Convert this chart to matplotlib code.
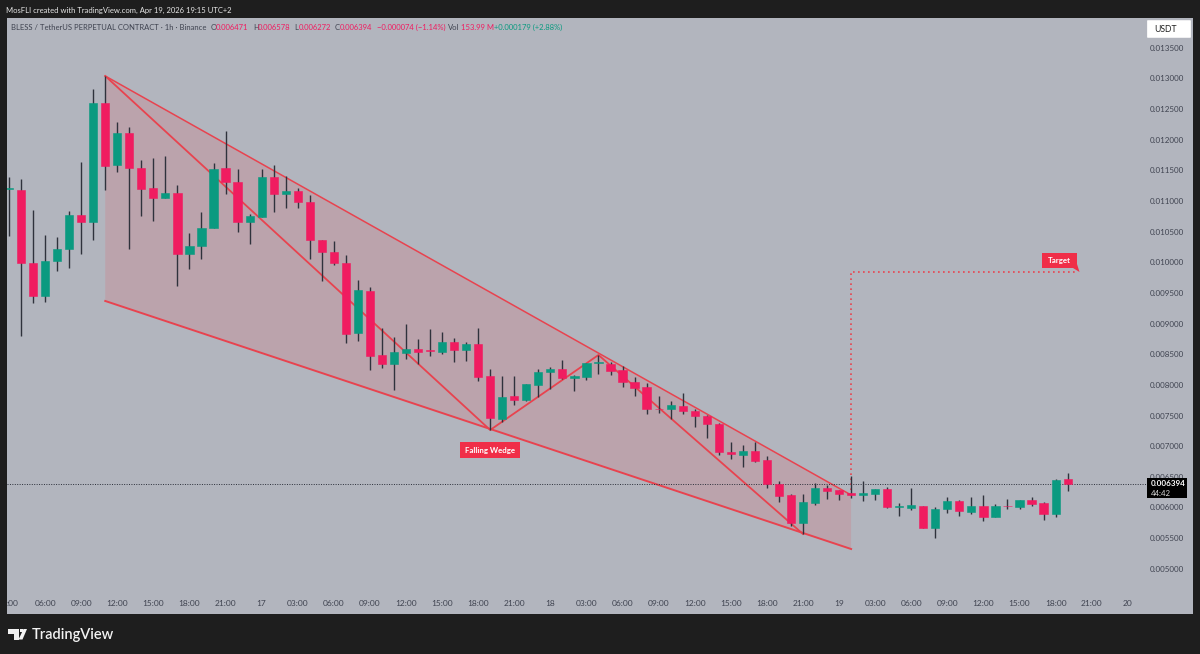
import matplotlib
matplotlib.use("Agg")
import matplotlib.pyplot as plt
from matplotlib.patches import Polygon, FancyBboxPatch, Rectangle

plt.rcParams['font.family'] = ['Lato', 'DejaVu Sans']

opens = [0.011205,0.011189,0.009998,0.009459,0.010030,0.010226,0.010781,0.010667,0.012608,0.011597,
         0.012119,0.011548,0.011221,0.011058,0.011140,0.010145,0.010275,0.010569,0.011548,0.011319,
         0.010667,0.010748,0.011401,0.011124,0.011172,0.010993,0.010373,0.010177,0.009998,0.008855,
         0.009541,0.008497,0.008350,0.008529,0.008594,0.008570,0.008545,0.008709,0.008578,0.008676,
         0.008154,0.007452,0.007828,0.007762,0.008007,0.008219,0.008268,0.008121,0.008138,0.008366,
         0.008350,0.008252,0.008056,0.007974,0.007622,0.007615,0.007664,0.007583,0.007501,0.007371,
         0.006914,0.006865,0.006930,0.006783,0.006392,0.006212,0.005755,0.006082,0.006326,0.006294,
         0.006245,0.006212,0.006228,0.006310,0.006016,0.006000,0.006033,0.005674,0.005984,0.006114,
         0.005935,0.006033,0.005853,0.006040,0.006016,0.006131,0.006082,0.005902,0.006471]
closes = [0.011215,0.009998,0.009459,0.010030,0.010226,0.010781,0.010667,0.012608,0.011580,0.012119,
          0.011548,0.011205,0.011058,0.011140,0.010145,0.010275,0.010569,0.011531,0.011319,0.010667,
          0.010765,0.011401,0.011124,0.011172,0.010993,0.010373,0.010177,0.009998,0.008839,0.009557,
          0.008480,0.008350,0.008545,0.008594,0.008545,0.008555,0.008709,0.008578,0.008676,0.008138,
          0.007469,0.007811,0.007762,0.008023,0.008219,0.008268,0.008121,0.008154,0.008366,0.008375,
          0.008235,0.008056,0.007958,0.007615,0.007608,0.007681,0.007583,0.007501,0.007371,0.006914,
          0.006881,0.006930,0.006767,0.006392,0.006196,0.005755,0.006098,0.006326,0.006277,0.006228,
          0.006212,0.006245,0.006310,0.006016,0.006025,0.006049,0.005674,0.005984,0.006114,0.005951,
          0.006033,0.005853,0.006033,0.006025,0.006131,0.006065,0.005902,0.006457,0.006394]
highs = [0.011401,0.011368,0.010862,0.010455,0.010422,0.010846,0.011646,0.012837,0.013049,0.012298,
         0.012217,0.011678,0.011711,0.011744,0.011270,0.010487,0.010830,0.011629,0.012152,0.011531,
         0.010797,0.011531,0.011597,0.011417,0.011221,0.011107,0.010373,0.010357,0.010128,0.009720,
         0.009606,0.008937,0.008790,0.009002,0.008758,0.008921,0.008872,0.008774,0.008709,0.008937,
         0.008268,0.008154,0.008154,0.008023,0.008268,0.008301,0.008415,0.008170,0.008366,0.008497,
         0.008382,0.008317,0.008138,0.008040,0.007828,0.007746,0.007876,0.007615,0.007518,0.007387,
         0.007077,0.007028,0.007077,0.006848,0.006441,0.006228,0.006228,0.006408,0.006375,0.006294,
         0.006522,0.006441,0.006310,0.006343,0.006082,0.006326,0.006033,0.006016,0.006179,0.006131,
         0.006179,0.006212,0.006065,0.006147,0.006131,0.006179,0.006098,0.006473,0.006578]
lows = [0.010438,0.008807,0.009345,0.009361,0.009867,0.009916,0.010145,0.010373,0.011189,0.011483,
        0.010226,0.010765,0.010683,0.011058,0.009622,0.009900,0.010063,0.010569,0.011124,0.010503,
        0.010308,0.010748,0.010830,0.010895,0.010895,0.010063,0.009704,0.009965,0.008692,0.008725,
        0.008252,0.008284,0.007925,0.008431,0.008350,0.008480,0.008513,0.008382,0.008399,0.008072,
        0.007273,0.007403,0.007681,0.007746,0.007811,0.007942,0.008105,0.007909,0.008089,0.008186,
        0.008170,0.007974,0.007828,0.007534,0.007550,0.007452,0.007534,0.007322,0.007142,0.006865,
        0.006800,0.006669,0.006751,0.006326,0.006098,0.005706,0.005576,0.006049,0.006147,0.006131,
        0.006163,0.006114,0.006131,0.006000,0.005869,0.005967,0.005674,0.005510,0.005918,0.005869,
        0.005902,0.005788,0.005853,0.005984,0.005984,0.006033,0.005804,0.005853,0.006272]

time_tick_pos = [0.3,3,6,9,12,15,18,21,24,27,30,33,36,39,42,45,48,51,54,57,60,63,66,69,72,75,78,81,84,87,90,93]
time_tick_lab = [':00','06:00','09:00','12:00','15:00','18:00','21:00','17','03:00','06:00','09:00','12:00','15:00',
                 '18:00','21:00','18','03:00','06:00','09:00','12:00','15:00','18:00','21:00','19','03:00',
                 '06:00','09:00','12:00','15:00','18:00','21:00','20']
price_ticks = [0.0135,0.0130,0.0125,0.0120,0.0115,0.0110,0.0105,0.0100,0.0095,0.0090,0.0085,
               0.0080,0.0075,0.0070,0.0065,0.0060,0.0055,0.0050]

wedge_x = [8, 70, 70, 8]
wedge_y = [0.013049, 0.006212, 0.005331, 0.009378]
zigzag_x = [8, 40, 49, 66]
zigzag_y = [0.013049, 0.007273, 0.008497, 0.005576]
target_x = [70, 70, 88.9]
target_y = [0.006212, 0.009851, 0.009851]
last_price = 0.006394

W, H = 1200, 654
BG, PANE = '#1e1e1e', '#b2b5be'
RED, GREEN, LINE = '#f01c60', '#0a9a80', '#e8434f'
TXT = '#3f4350'
fig = plt.figure(figsize=(W/100, H/100), dpi=100, facecolor=BG)
L, T, R, B = 7, 18, 1193, 614
ax = fig.add_axes([L/W, 1-B/H, (R-L)/W, (B-T)/H], facecolor=PANE)
ax.set_xlim((L-9)/12.03, (R-9)/12.03)
ax.set_ylim(0.006+(508-B)*1.6317e-5, 0.006+(508-T)*1.6317e-5)
ax.set_axis_off()
ax.add_patch(Rectangle((0, 0), 1, 1, transform=ax.transAxes, fc=PANE, ec='none', zorder=0))

ax.add_patch(Polygon(list(zip(wedge_x, wedge_y)), closed=True, fc='#f23645', ec='none', alpha=0.14, zorder=1))
ax.plot(wedge_x[:2], wedge_y[:2], color=LINE, lw=1.1, zorder=2)
ax.plot(wedge_x[2:], wedge_y[2:], color=LINE, lw=1.4, zorder=2)
ax.plot(zigzag_x, zigzag_y, color=LINE, lw=1.3, zorder=2)
ax.plot(target_x, target_y, color=LINE, lw=1.2, ls=(0, (1, 2)), zorder=2)
ax.axhline(last_price, color='#2a2e39', lw=0.7, ls=(0, (1, 1.5)), xmax=(1147-L)/(R-L), zorder=3)

for i, (o, h, l, c) in enumerate(zip(opens, highs, lows, closes)):
    col = GREEN if c >= o else RED
    ax.vlines(i, l, h, color='#2f323c', lw=1.0, zorder=4)
    ax.bar(i, abs(c-o), bottom=min(o, c), width=0.68, color=col, ec=col, lw=0.4, zorder=5)

def tx(px, py, s, **k):
    k.setdefault('va', 'center')
    k.setdefault('ha', 'left')
    return fig.text(px/W, 1-py/H, s, **k)

for p, s in zip(time_tick_pos, time_tick_lab):
    ax.text(p, 0.017, s, transform=ax.get_xaxis_transform(), ha='center', va='center', fontsize=6, color=TXT, zorder=6)
for p in price_ticks:
    py = 508-(p-0.006)/1.6317e-5
    tx(1167, py, f'{p:.6f}', fontsize=5.8, color=TXT, ha='center', zorder=4)

tx(6, 10, 'MosFLI created with TradingView.com, Apr 19, 2026 19:15 UTC+2', fontsize=5.5, color='#e6e6e6')
hdr = [(11,'BLESS / TetherUS PERPETUAL CONTRACT · 1h · Binance',TXT),(211,'O',TXT),(216,'0.006471',RED),
       (253,'H',TXT),(258,'0.006578',RED),(294,'L',TXT),(299,'0.006272',RED),(335,'C',TXT),(340,'0.006394',RED),
       (377,'−0.000074 (−1.14%)',RED),(448,'Vol',TXT),(461,'153.99 M',RED),(494,'+0.000179 (+2.88%)',GREEN)]
for x, s, c in hdr:
    tx(x, 27, s, fontsize=5.5, color=c)

# USDT button
fig.patches.append(FancyBboxPatch((1148/W, 1-37/H), 42/W, 16/H, boxstyle='round,pad=0.0005', transform=fig.transFigure,
                                  fc='white', ec='white', lw=0.5, zorder=6))
tx(1154, 29, 'USDT', fontsize=6.2, color='#222222', zorder=7)

# last price tag
fig.patches.append(Rectangle((1147/W, 1-498/H), 40/W, 20/H, transform=fig.transFigure, fc='black', ec='none', zorder=6))
tx(1151, 483.5, f'{last_price:.6f}', fontsize=5.8, color='white', fontweight='bold', zorder=7)
tx(1151, 493, '44:42', fontsize=5.6, color='#d8d8d8', zorder=7)

# drawing labels
fig.patches.append(Rectangle((460/W, 1-458/H), 60/W, 16/H, transform=fig.transFigure, fc='#f02e48', ec='none', zorder=6))
tx(490, 450, 'Falling Wedge', fontsize=5.7, color='white', fontweight='bold', ha='center', zorder=7)
fig.patches.append(Polygon([(1042/W,1-253/H),(1077/W,1-253/H),(1077/W,1-264/H),(1079.5/W,1-272/H),(1073/W,1-268/H),(1042/W,1-268/H)],
                           closed=True, transform=fig.transFigure, fc='#f02e48', ec='none', zorder=6))
tx(1059, 260, 'Target', fontsize=5.7, color='white', fontweight='bold', ha='center', zorder=7)

# brand mark
for pts in ([(8,629),(19,629),(19,639.5),(14,639.5),(14,633.5),(8,633.5)],
            [(20,629),(23,629),(23,632),(20,632)],
            [(23.5,629),(27,629),(22.5,639.5),(18.5,639.5)]):
    fig.patches.append(Polygon([(x/W, 1-y/H) for x, y in pts], closed=True, transform=fig.transFigure, fc='#f2f2f2', ec='none'))
tx(32, 634.5, 'TradingView', fontsize=10.5, color='#f2f2f2', fontweight='semibold')

fig.savefig('out.png', dpi=100, facecolor=BG)
